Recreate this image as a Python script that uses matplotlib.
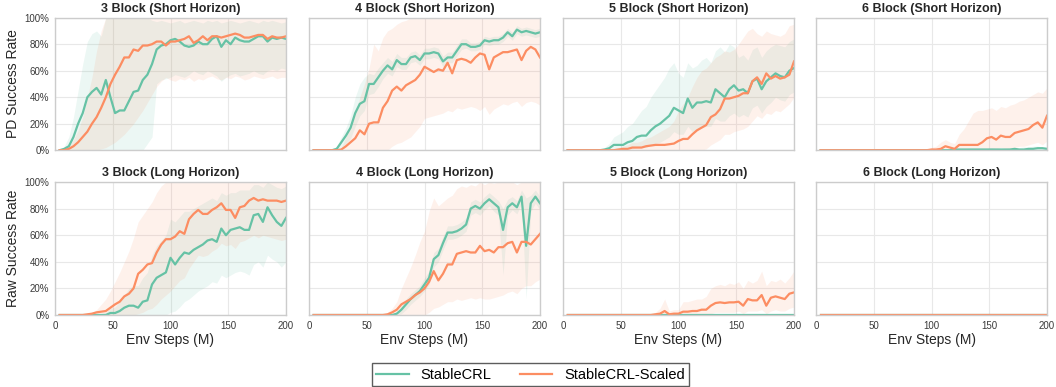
import numpy as np
import matplotlib
matplotlib.use("Agg")
import matplotlib.pyplot as plt

# env steps (M), one point every 4M
steps = np.arange(4, 201, 4)

titles = ["3 Block (Short Horizon)", "4 Block (Short Horizon)",
          "5 Block (Short Horizon)", "6 Block (Short Horizon)",
          "3 Block (Long Horizon)", "4 Block (Long Horizon)",
          "5 Block (Long Horizon)", "6 Block (Long Horizon)"]
row_labels = ["PD Success Rate", "Raw Success Rate"]
methods = ["StableCRL", "StableCRL-Scaled"]
y_ticks = [0, 20, 40, 60, 80, 100]
x_ticks = [0, 50, 100, 150, 200]

# ---- 3 block short ----
s3_crl = [0, 1, 3, 10, 20, 28, 40, 44, 47, 42, 53, 40, 28, 30, 30, 37, 44, 45, 53, 57,
          65, 76, 79, 80, 83, 84, 82, 79, 78, 79, 82, 80, 80, 84, 86, 78, 83, 80, 85, 83,
          82, 82, 84, 86, 86, 82, 85, 84, 85, 84]
s3_crl_lo = [0, 0, 0, 0, 0, 0, 0, 0, 0, 0, 0, 0, 0, 0, 0, 0, 0, 0, 0, 5,
             10, 50, 53, 54, 55, 57, 56, 55, 57, 60, 58, 57, 60, 58, 56, 52, 55, 57, 58, 56,
             57, 58, 60, 58, 57, 60, 61, 60, 62, 61]
s3_crl_hi = [0, 3, 10, 25, 45, 65, 82, 88, 90, 86, 100, 100, 100, 100, 100, 100, 100, 100, 100, 100,
             98, 97, 98, 97, 96, 97, 98, 96, 97, 98, 97, 96, 98, 97, 98, 96, 97, 98, 97, 96,
             97, 98, 97, 96, 98, 97, 98, 97, 96, 97]
s3_sc = [0, 0, 1, 3, 6, 10, 14, 20, 25, 32, 40, 50, 57, 63, 70, 70, 76, 75, 79, 79,
         80, 82, 82, 79, 82, 82, 83, 84, 86, 81, 83, 86, 83, 86, 86, 85, 86, 87, 88, 87,
         85, 85, 86, 87, 87, 84, 86, 85, 85, 86]
s3_sc_lo = [0, 0, 0, 0, 0, 0, 0, 0, 0, 1, 2, 4, 6, 9, 12, 16, 20, 25, 30, 36,
            42, 48, 52, 55, 53, 52, 54, 53, 55, 52, 54, 53, 55, 56, 54, 53, 55, 54, 56, 55,
            53, 54, 56, 55, 54, 55, 56, 54, 55, 55]
s3_sc_hi = [0, 1, 3, 8, 15, 25, 40, 55, 75, 90, 100, 100, 100, 100, 100, 100, 100, 100, 100, 100,
            100, 100, 100, 100, 100, 100, 100, 100, 100, 100, 100, 100, 100, 100, 100, 100, 100, 100, 100, 100,
            100, 100, 100, 100, 100, 100, 100, 100, 100, 100]

# ---- 4 block short ----
s4_crl = [0, 0, 0, 0, 0, 1, 6, 11, 17, 28, 35, 37, 50, 50, 55, 60, 64, 61, 68, 65,
          65, 70, 71, 68, 73, 73, 74, 73, 67, 70, 70, 75, 80, 80, 78, 78, 79, 83, 82, 83,
          83, 85, 89, 86, 91, 89, 90, 89, 88, 89]
s4_crl_lo = [0, 0, 0, 0, 0, 0, 2, 5, 9, 18, 26, 30, 42, 43, 48, 54, 58, 56, 63, 61,
             61, 66, 67, 64, 69, 69, 70, 69, 63, 66, 66, 71, 76, 77, 75, 75, 76, 80, 79, 80,
             80, 82, 86, 83, 88, 86, 87, 86, 85, 86]
s4_crl_hi = [0, 0, 0, 0, 1, 3, 10, 17, 26, 40, 50, 55, 58, 57, 62, 66, 70, 67, 73, 70,
             70, 74, 75, 72, 77, 77, 78, 77, 71, 74, 74, 79, 84, 84, 81, 81, 82, 86, 85, 86,
             86, 88, 92, 89, 94, 92, 93, 92, 91, 92]
s4_sc = [0, 0, 0, 0, 0, 0, 0.5, 3, 6, 9, 15, 12, 20, 21, 21, 32, 37, 45, 48, 45,
         49, 51, 53, 57, 63, 61, 59, 61, 60, 66, 58, 68, 69, 68, 66, 70, 73, 72, 61, 70,
         72, 74, 74, 75, 76, 68, 75, 78, 76, 70]
s4_sc_lo = [0, 0, 0, 0, 0, 0, 0, 0, 0, 0, 0, 0, 0, 0, 0, 0, 0, 3, 5, 6,
            8, 10, 14, 18, 24, 25, 26, 27, 28, 30, 29, 32, 31, 32, 33, 32, 30, 33, 27, 31,
            33, 35, 34, 36, 37, 33, 36, 37, 36, 34]
s4_sc_hi = [0, 0, 0, 0, 0, 0, 2, 10, 18, 28, 40, 50, 62, 80, 75, 85, 90, 92, 95, 97,
            98, 100, 100, 100, 100, 100, 100, 100, 100, 100, 100, 100, 100, 100, 100, 100, 100, 100, 100, 100,
            100, 100, 100, 100, 100, 100, 100, 100, 100, 100]

# ---- 5 block short ----
s5_crl = [0, 0, 0, 0, 0, 0, 0, 0, 0.5, 1.5, 4, 4, 4, 6, 7, 10, 11, 11, 15, 18,
          20, 23, 26, 32, 30, 28, 39, 32, 36, 36, 37, 36, 46, 43, 40, 46, 49, 45, 46, 43,
          52, 54, 46, 52, 55, 58, 56, 55, 60, 62]
s5_crl_lo = [0, 0, 0, 0, 0, 0, 0, 0, 0, 0, 0, 0, 0, 1, 1, 2, 2, 2, 4, 5,
             6, 8, 10, 14, 12, 12, 18, 14, 16, 17, 18, 18, 24, 22, 22, 26, 28, 25, 27, 25,
             32, 34, 28, 33, 36, 40, 38, 37, 42, 44]
s5_crl_hi = [0, 0, 0, 0, 0, 0, 0, 0, 2, 5, 10, 12, 14, 18, 20, 25, 30, 33, 40, 45,
             50, 55, 62, 66, 58, 55, 66, 62, 64, 68, 70, 66, 75, 78, 74, 80, 78, 70, 72, 68,
             76, 78, 70, 75, 78, 80, 79, 78, 82, 84]
s5_sc = [0, 0, 0, 0, 0, 0, 0, 0, 0, 0, 0, 0.5, 1, 1, 2, 2, 2, 3, 3.5, 4,
         4, 4, 4.5, 5, 7, 8.5, 8.5, 12, 15, 17, 19, 25, 27, 31, 39, 39, 40, 41, 43, 43,
         52, 55, 50, 58, 54, 56, 54, 55, 57, 67]
s5_sc_lo = [0, 0, 0, 0, 0, 0, 0, 0, 0, 0, 0, 0, 0, 0, 0, 0, 0, 0, 0, 0,
            0, 0, 0, 0, 0, 0, 0, 0, 0, 0, 1, 4, 6, 8, 12, 12, 14, 15, 16, 18,
            22, 26, 24, 28, 27, 30, 29, 32, 35, 40]
s5_sc_hi = [0, 0, 0, 0, 0, 0, 0, 0, 0, 0, 1, 2, 3, 4, 6, 6, 7, 9, 10, 12,
            14, 16, 18, 22, 30, 35, 40, 48, 55, 60, 62, 66, 70, 72, 75, 74, 76, 80, 85, 90,
            92, 88, 86, 90, 88, 87, 86, 88, 94, 95]

# ---- 6 block short ----
s6_crl = [0, 0, 0, 0, 0, 0, 0, 0, 0, 0, 0, 0, 0, 0, 0, 0, 0, 0, 0, 0,
          0, 0, 0, 0, 0, 0, 0, 0, 0, 0.5, 0.5, 0.5, 0.5, 0.5, 0.5, 0.5, 0.5, 0.5, 0.5, 0.5,
          0.5, 0.5, 1, 0.5, 0.5, 1, 1, 1.5, 1.5, 1]
s6_crl_lo = [0, 0, 0, 0, 0, 0, 0, 0, 0, 0, 0, 0, 0, 0, 0, 0, 0, 0, 0, 0,
             0, 0, 0, 0, 0, 0, 0, 0, 0, 0, 0, 0, 0, 0, 0, 0, 0, 0, 0, 0,
             0, 0, 0, 0, 0, 0, 0, 0, 0, 0]
s6_crl_hi = [0, 0, 0, 0, 0, 0, 0, 0, 0, 0, 0, 0, 0, 0, 0, 0, 0, 0, 0, 0,
             0, 0, 0, 0, 0, 0, 0, 0, 0, 1.5, 1.5, 1, 1.5, 1.5, 1.5, 1.5, 1.5, 2, 1.5, 1.5,
             1.5, 2, 1.5, 2, 2.5, 2.5, 3, 3, 2.5, 2.5]
s6_sc = [0, 0, 0, 0, 0, 0, 0, 0, 0, 0, 0, 0, 0, 0, 0, 0, 0, 0, 0, 0,
         0, 0, 0, 0, 0.5, 0.5, 1, 3, 2, 1, 4, 4, 4, 4, 4, 6, 9, 10, 8, 11,
         10, 10, 13, 14, 15, 16, 19, 21, 17, 26]
s6_sc_lo = [0, 0, 0, 0, 0, 0, 0, 0, 0, 0, 0, 0, 0, 0, 0, 0, 0, 0, 0, 0,
            0, 0, 0, 0, 0, 0, 0, 0, 0, 0, 0, 0, 0, 0, 0, 0.5, 1, 1, 1, 2,
            1, 1, 2, 3, 3, 4, 5, 6, 4, 7]
s6_sc_hi = [0, 0, 0, 0, 0, 0, 0, 0, 0, 0, 0, 0, 0, 0, 0, 0, 0, 0, 0, 0,
            0, 0, 0, 0.5, 2, 3, 6, 8, 6, 5, 12, 16, 22, 28, 30, 30, 31, 32, 30, 33,
            32, 34, 35, 37, 38, 40, 42, 44, 43, 47]

# ---- 3 block long ----
l3_crl = [0, 0, 0, 0, 0, 0, 0, 0, 0, 0, 0, 1.5, 1.5, 3, 5.5, 7, 7, 5.5, 10, 11,
          23, 28, 30, 32, 43, 38, 43, 47, 46, 49, 51, 53, 56, 57, 55, 65, 60, 64, 65, 66,
          64, 64, 75, 76, 70, 81, 75, 70, 67, 73]
l3_crl_lo = [0, 0, 0, 0, 0, 0, 0, 0, 0, 0, 0, 0, 0, 0, 0, 0, 0, 0, 0, 0,
             0, 0, 0, 0, 2, 3, 6, 10, 12, 15, 18, 20, 22, 25, 24, 30, 28, 30, 32, 33,
             32, 30, 38, 40, 36, 45, 42, 40, 36, 40]
l3_crl_hi = [0, 0, 0, 0, 0, 0, 0, 0, 0, 1, 2, 5, 6, 10, 15, 20, 22, 22, 28, 32,
             45, 52, 56, 60, 72, 70, 74, 78, 78, 80, 82, 84, 86, 88, 86, 92, 90, 92, 92, 94,
             94, 94, 98, 98, 96, 100, 98, 96, 95, 97]
l3_sc = [0, 0, 0, 0, 0, 0, 0.5, 1, 2, 2.5, 3, 5.5, 8, 10, 14, 16, 20, 31, 34, 38,
         39, 47, 53, 57, 57, 59, 63, 61, 72, 76, 79, 76, 76, 79, 81, 84, 79, 79, 73, 81,
         82, 86, 88, 86, 87, 86, 86, 86, 85, 86]
l3_sc_lo = [0, 0, 0, 0, 0, 0, 0, 0, 0, 0, 0, 0, 0, 0, 0, 0, 0, 1, 2, 4,
            5, 8, 12, 15, 18, 22, 26, 28, 35, 40, 45, 44, 45, 48, 50, 54, 52, 53, 50, 55,
            56, 58, 60, 58, 60, 59, 58, 57, 56, 57]
l3_sc_hi = [0, 0, 0, 0, 0, 0.5, 1, 2, 4, 8, 12, 18, 25, 32, 40, 48, 58, 70, 75, 80,
            85, 92, 97, 100, 100, 100, 100, 100, 100, 100, 100, 100, 100, 100, 100, 100, 100, 100, 100, 100,
            100, 100, 100, 100, 100, 100, 100, 100, 100, 100]

# ---- 4 block long ----
l4_crl = [0, 0, 0, 0, 0, 0, 0, 0, 0, 0, 0, 0, 0, 0, 0, 0, 0, 0, 1, 4,
          8, 12, 15, 18, 23, 28, 42, 45, 54, 62, 62, 63, 65, 68, 80, 82, 80, 84, 87, 84,
          81, 64, 81, 84, 81, 89, 52, 84, 89, 84]
l4_crl_lo = [0, 0, 0, 0, 0, 0, 0, 0, 0, 0, 0, 0, 0, 0, 0, 0, 0, 0, 0, 1,
             4, 8, 11, 14, 18, 23, 36, 40, 49, 57, 57, 58, 60, 63, 75, 77, 75, 79, 82, 78,
             75, 30, 75, 79, 76, 84, 12, 78, 84, 79]
l4_crl_hi = [0, 0, 0, 0, 0, 0, 0, 0, 0, 0, 0, 0, 0, 0, 0, 0, 0, 0, 2, 7,
             12, 16, 19, 22, 28, 33, 47, 50, 59, 67, 67, 68, 70, 73, 85, 87, 85, 89, 92, 89,
             86, 80, 87, 89, 86, 94, 88, 90, 94, 89]
l4_sc = [0, 0, 0, 0, 0, 0, 0, 0, 0, 0, 0, 0, 0, 0, 0, 0, 0.5, 2, 4, 8,
         10, 12, 15, 17, 20, 25, 33, 26, 31, 38, 38, 46, 47, 48, 47, 47, 52, 48, 49, 47,
         51, 51, 54, 55, 47, 55, 55, 53, 57, 61]
l4_sc_lo = [0, 0, 0, 0, 0, 0, 0, 0, 0, 0, 0, 0, 0, 0, 0, 0, 0, 0, 0, 0,
            0, 0, 0, 0, 0, 2, 5, 6, 8, 10, 10, 12, 11, 12, 13, 12, 13, 12, 12, 13,
            14, 15, 17, 18, 16, 20, 22, 22, 25, 27]
l4_sc_hi = [0, 0, 0, 0, 0, 0, 0, 0, 0, 0, 0, 0, 0, 0, 0, 0, 2, 5, 10, 20,
            28, 36, 45, 55, 63, 78, 88, 82, 85, 88, 90, 95, 97, 96, 98, 97, 100, 98, 100, 99,
            100, 100, 100, 100, 98, 100, 100, 100, 100, 100]

# ---- 5 block long ----
l5_crl = [0, 0, 0, 0, 0, 0, 0, 0, 0, 0, 0, 0, 0, 0, 0, 0, 0, 0, 0, 0,
          0, 0, 0, 0, 0, 0, 0, 0, 0, 0, 0, 0, 0, 0, 0, 0, 0, 0, 0, 0,
          0, 0, 0, 0, 0, 0, 0, 0, 0, 0]
l5_sc = [0, 0, 0, 0, 0, 0, 0, 0, 0, 0, 0, 0, 0, 0, 0, 0, 0, 0, 0, 0.5,
         1, 3, 0.5, 1, 1, 2.5, 2.5, 3, 3, 4, 4, 7, 9, 9.5, 9, 9.5, 9.5, 10, 7, 12,
         11, 11, 15, 7, 13, 14, 13, 12, 16, 17]
l5_sc_lo = [0, 0, 0, 0, 0, 0, 0, 0, 0, 0, 0, 0, 0, 0, 0, 0, 0, 0, 0, 0,
            0, 0, 0, 0, 0, 0, 0, 0, 0, 0, 0.5, 1, 2, 2, 2, 2, 2, 3, 1, 3,
            3, 3, 4, 1, 3, 4, 3, 3, 5, 6]
l5_sc_hi = [0, 0, 0, 0, 0, 0, 0, 0, 0, 0, 0, 0, 0, 0, 0, 0, 0, 0, 0, 2,
            5, 12, 3, 4, 4, 10, 10, 11, 12, 12, 14, 20, 22, 23, 22, 24, 23, 25, 20, 26,
            24, 26, 33, 22, 26, 25, 27, 24, 28, 33]

# ---- 6 block long ----
l6_crl = [0, 0, 0, 0, 0, 0, 0, 0, 0, 0, 0, 0, 0, 0, 0, 0, 0, 0, 0, 0,
          0, 0, 0, 0, 0, 0, 0, 0, 0, 0, 0, 0, 0, 0, 0, 0, 0, 0, 0, 0,
          0, 0, 0, 0, 0, 0, 0, 0, 0, 0]
l6_sc = [0, 0, 0, 0, 0, 0, 0, 0, 0, 0, 0, 0, 0, 0, 0, 0, 0, 0, 0, 0,
         0, 0, 0, 0, 0, 0, 0, 0, 0, 0, 0, 0, 0, 0, 0, 0, 0, 0, 0, 0,
         0, 0, 0, 0, 0, 0, 0, 0, 0, 0]
l6_sc_hi = [0, 0, 0, 0, 0, 0, 0, 0, 0, 0, 0, 0, 0, 0, 0, 0, 0, 0, 0, 0,
            0, 0, 0, 0, 0.5, 0.5, 0.5, 0.5, 0.5, 0.5, 0.5, 0.5, 0.5, 0.5, 0.5, 0.5, 0.5, 0.5, 0.5, 0.5,
            0.5, 0.5, 0.5, 0.5, 0.5, 0.5, 0.5, 0.5, 0.5, 1]

# (mean, lo, hi) per method per panel
panels = [
    [(s3_crl, s3_crl_lo, s3_crl_hi), (s3_sc, s3_sc_lo, s3_sc_hi)],
    [(s4_crl, s4_crl_lo, s4_crl_hi), (s4_sc, s4_sc_lo, s4_sc_hi)],
    [(s5_crl, s5_crl_lo, s5_crl_hi), (s5_sc, s5_sc_lo, s5_sc_hi)],
    [(s6_crl, s6_crl_lo, s6_crl_hi), (s6_sc, s6_sc_lo, s6_sc_hi)],
    [(l3_crl, l3_crl_lo, l3_crl_hi), (l3_sc, l3_sc_lo, l3_sc_hi)],
    [(l4_crl, l4_crl_lo, l4_crl_hi), (l4_sc, l4_sc_lo, l4_sc_hi)],
    [(l5_crl, l5_crl, l5_crl), (l5_sc, l5_sc_lo, l5_sc_hi)],
    [(l6_crl, l6_crl, l6_crl), (l6_sc, l6_sc, l6_sc_hi)],
]

colors = ["#66c2a5", "#fc8d62"]

plt.rcParams['font.family'] = ['Liberation Sans', 'DejaVu Sans']
fig = plt.figure(figsize=(10.56, 3.87), dpi=100)

W, H = 1056.0, 387.0
col_left = [55, 309, 563, 816]
ax_w = 231
row_top = [17.7, 182]
ax_h = [132.5, 133]

lines = []
for i, title in enumerate(titles):
    r, c = divmod(i, 4)
    ax = fig.add_axes([col_left[c] / W, 1 - (row_top[r] + ax_h[r]) / H, ax_w / W, ax_h[r] / H])
    for k, (mean, lo, hi) in enumerate(panels[i]):
        ax.fill_between(steps, lo, hi, color=colors[k], alpha=0.12, linewidth=0)
        ln, = ax.plot(steps, mean, color=colors[k], lw=1.6, label=methods[k])
        if i == 0:
            lines.append(ln)
    ax.set_xlim(0, 200)
    ax.set_ylim(0, 100)
    ax.set_xticks(x_ticks)
    ax.set_yticks(y_ticks)
    ax.grid(True, color="#e8e8e8", lw=0.8)
    ax.set_axisbelow(True)
    for sp in ax.spines.values():
        sp.set_color("#cccccc")
        sp.set_linewidth(1.0)
    ax.tick_params(length=0, labelsize=7, colors="#3a3a3a", pad=4)
    ax.set_title(title, fontsize=9, fontweight="bold", color="#262626", pad=4)
    if c == 0:
        ax.set_yticklabels([f"{t}%" for t in y_ticks])
        ax.set_ylabel(row_labels[r], fontsize=10, color="#262626", labelpad=3)
    else:
        ax.set_yticklabels([])
    if r == 1:
        ax.set_xlabel("Env Steps (M)", fontsize=10, color="#262626", labelpad=2)
    else:
        ax.set_xticklabels([])

leg = fig.legend(lines, methods, loc="lower center", bbox_to_anchor=(0.5025, -0.005),
                 ncol=2, fontsize=10.5, frameon=True, fancybox=False,
                 handlelength=2.2, handletextpad=0.8, columnspacing=2.0,
                 borderpad=0.3, borderaxespad=0.2)
leg.get_frame().set_edgecolor("#333333")
leg.get_frame().set_linewidth(1.0)

fig.savefig("out.png", dpi=100)
